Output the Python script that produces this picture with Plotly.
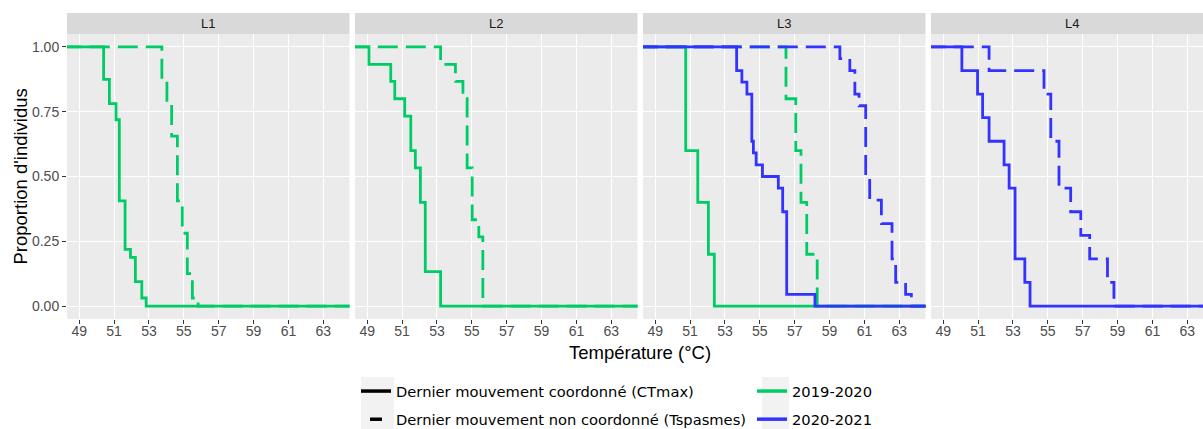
import plotly.graph_objects as go

# ---------------- data ----------------
panels = ["L1", "L2", "L3", "L4"]
x_ticks = [49, 51, 53, 55, 57, 59, 61, 63]
y_ticks = [0.0, 0.25, 0.50, 0.75, 1.0]
temp_start = 48.0
temp_end = 65.0

# L1 – 2019-2020
L1_2019_ctmax_temp = [50.40, 50.73, 51.11, 51.30, 51.63, 51.94, 52.22, 52.59, 52.84]
L1_2019_ctmax_prop = [0.875, 0.781, 0.719, 0.406, 0.219, 0.188, 0.094, 0.031, 0.0]
L1_2019_tsp_temp = [53.74, 54.03, 54.30, 54.63, 54.91, 55.20, 55.49, 55.82]
L1_2019_tsp_prop = [0.875, 0.781, 0.656, 0.406, 0.281, 0.125, 0.031, 0.0]

# L2 – 2019-2020
L2_2019_ctmax_temp = [49.10, 50.35, 50.58, 51.15, 51.50, 51.76, 52.05, 52.33, 53.21]
L2_2019_ctmax_prop = [0.933, 0.867, 0.800, 0.733, 0.600, 0.533, 0.400, 0.133, 0.0]
L2_2019_tsp_temp = [53.21, 54.06, 54.49, 54.73, 55.02, 55.40, 55.63]
L2_2019_tsp_prop = [0.933, 0.867, 0.800, 0.533, 0.333, 0.267, 0.0]

# L3 – 2019-2020
L3_2019_ctmax_temp = [50.75, 51.44, 52.05, 52.39]
L3_2019_ctmax_prop = [0.6, 0.4, 0.2, 0.0]
L3_2019_tsp_temp = [56.50, 57.06, 57.36, 57.69, 58.29]
L3_2019_tsp_prop = [0.8, 0.6, 0.4, 0.2, 0.0]

# L3 – 2020-2021
L3_2020_ctmax_temp = [53.67, 53.97, 54.26, 54.54, 54.63, 54.79, 55.15, 56.06, 56.31, 56.54, 58.16]
L3_2020_ctmax_prop = [0.909, 0.864, 0.818, 0.636, 0.591, 0.545, 0.500, 0.455, 0.364, 0.045, 0.0]
L3_2020_tsp_temp = [59.59, 60.16, 60.45, 60.69, 61.07, 61.30, 61.97, 62.58, 62.79, 63.36, 63.69]
L3_2020_tsp_prop = [0.955, 0.909, 0.818, 0.773, 0.500, 0.409, 0.318, 0.182, 0.091, 0.045, 0.0]

# L4 – 2020-2021
L4_2020_ctmax_temp = [50.07, 50.97, 51.26, 51.63, 52.49, 52.78, 53.12, 53.68, 53.98]
L4_2020_ctmax_prop = [0.909, 0.818, 0.727, 0.636, 0.545, 0.455, 0.182, 0.091, 0.0]
L4_2020_tsp_temp = [51.63, 54.78, 55.17, 55.64, 56.31, 56.89, 57.40, 58.42, 58.79]
L4_2020_tsp_prop = [0.909, 0.818, 0.636, 0.455, 0.364, 0.273, 0.182, 0.091, 0.0]

series = [
    # (panel, year, type, temps, props)
    ("L1", "2019-2020", "ctmax", L1_2019_ctmax_temp, L1_2019_ctmax_prop),
    ("L1", "2019-2020", "tsp", L1_2019_tsp_temp, L1_2019_tsp_prop),
    ("L2", "2019-2020", "ctmax", L2_2019_ctmax_temp, L2_2019_ctmax_prop),
    ("L2", "2019-2020", "tsp", L2_2019_tsp_temp, L2_2019_tsp_prop),
    ("L3", "2019-2020", "ctmax", L3_2019_ctmax_temp, L3_2019_ctmax_prop),
    ("L3", "2019-2020", "tsp", L3_2019_tsp_temp, L3_2019_tsp_prop),
    ("L3", "2020-2021", "ctmax", L3_2020_ctmax_temp, L3_2020_ctmax_prop),
    ("L3", "2020-2021", "tsp", L3_2020_tsp_temp, L3_2020_tsp_prop),
    ("L4", "2020-2021", "ctmax", L4_2020_ctmax_temp, L4_2020_ctmax_prop),
    ("L4", "2020-2021", "tsp", L4_2020_tsp_temp, L4_2020_tsp_prop),
]

type_labels = {
    "ctmax": "Dernier mouvement coordonné (CTmax)",
    "tsp": "Dernier mouvement non coordonné (Tspasmes)",
}
year_labels = ["2019-2020", "2020-2021"]

# ---------------- styles ----------------
W, H = 1203, 429
year_colors = {"2019-2020": "#00CC66", "2020-2021": "#3333FF"}
type_dash = {"ctmax": "solid", "tsp": "20px,8px"}
LINE_W = 2.8
AX_FONT = "Liberation Sans, Arial, sans-serif"
LEG_FONT = "DejaVu Sans, Verdana, sans-serif"

panel_px = [(67, 349.5), (355, 637.5), (643, 925.5), (931, 1203)]
x_lo, x_hi = 48.3, 64.5
px_per_unit = (panel_px[0][1] - panel_px[0][0]) / (x_hi - x_lo)
plot_top, plot_bot = 34, 319
strip_top = 13


def fx(p):
    return p / W


def fy(p):
    return 1 - p / H


fig = go.Figure()

for panel, year, typ, temps, props in series:
    i = panels.index(panel) + 1
    xs = [temp_start] + list(temps) + [temp_end]
    ys = [1.0] + list(props) + [props[-1]]
    fig.add_trace(go.Scatter(
        x=xs, y=ys, mode="lines", line_shape="hv",
        line=dict(color=year_colors[year], width=LINE_W, dash=type_dash[typ]),
        xaxis=f"x{i}", yaxis=f"y{i}", showlegend=False, hoverinfo="skip",
    ))

# legend entries
for typ in ["ctmax", "tsp"]:
    fig.add_trace(go.Scatter(
        x=[None], y=[None], mode="lines", name=type_labels[typ],
        line=dict(color="black", width=3.5,
                  dash="solid" if typ == "ctmax" else "0px,9px,12px,40px"),
        legend="legend", legendgroup=typ, showlegend=True,
    ))
for yr in year_labels:
    fig.add_trace(go.Scatter(
        x=[None], y=[None], mode="lines", name=yr,
        line=dict(color=year_colors[yr], width=3.5),
        legend="legend2", legendgroup=yr, showlegend=True,
    ))

layout = dict(
    width=W, height=H,
    margin=dict(l=0, r=0, t=0, b=0, autoexpand=False),
    paper_bgcolor="white", plot_bgcolor="#EBEBEB",
    font=dict(family=AX_FONT, color="#4D4D4D"),
    showlegend=True,
)

shapes = []
annotations = []
for i, (a, b) in enumerate(panel_px, start=1):
    rng_hi = x_lo + (b - a) / px_per_unit
    layout[f"xaxis{i}"] = dict(
        domain=[fx(a), fx(b)], range=[x_lo, rng_hi], anchor=f"y{i}",
        tickvals=x_ticks, ticks="outside", ticklen=4, tickcolor="#333333",
        ticklabelstandoff=-5,
        tickfont=dict(size=14, color="#4D4D4D", family=AX_FONT),
        showgrid=True, gridcolor="white", gridwidth=1.1,
        zeroline=False, showline=False, automargin=False, fixedrange=True,
    )
    layout[f"yaxis{i}"] = dict(
        domain=[fy(plot_bot), fy(plot_top)], range=[-0.05, 1.05],
        anchor=f"x{i}", tickvals=y_ticks, tickformat=".2f",
        ticks="outside" if i == 1 else "", ticklen=4, tickcolor="#333333",
        showticklabels=(i == 1),
        tickfont=dict(size=14, color="#4D4D4D", family=AX_FONT),
        showgrid=True, gridcolor="white", gridwidth=1.1,
        zeroline=False, showline=False, automargin=False, fixedrange=True,
    )
    shapes.append(dict(
        type="rect", xref="paper", yref="paper",
        x0=fx(a), x1=fx(b), y0=fy(plot_top), y1=fy(strip_top),
        fillcolor="#D9D9D9", line=dict(width=0), layer="below",
    ))
    annotations.append(dict(
        text=panels[i - 1], xref="paper", yref="paper",
        x=fx(a + 141), y=fy((strip_top + plot_top) / 2),
        xanchor="center", yanchor="middle", showarrow=False,
        font=dict(size=13, color="#1A1A1A", family=AX_FONT),
    ))

# axis titles
annotations.append(dict(
    text="Température (°C)", xref="paper", yref="paper",
    x=fx(640), y=fy(352), xanchor="center", yanchor="middle", showarrow=False,
    font=dict(size=18.5, color="black", family=AX_FONT),
))
annotations.append(dict(
    text="Proportion d'individus", xref="paper", yref="paper",
    x=fx(20), y=fy((plot_top + plot_bot) / 2), xanchor="center", yanchor="middle",
    textangle=-90, showarrow=False,
    font=dict(size=18.5, color="black", family=AX_FONT),
))

# legend key backgrounds
for (a, b) in [(361, 394), (762, 789)]:
    shapes.append(dict(
        type="rect", xref="paper", yref="paper",
        x0=fx(a), x1=fx(b), y0=fy(432), y1=fy(377),
        fillcolor="#F2F2F2", line=dict(width=0), layer="below",
    ))

layout["shapes"] = shapes
layout["annotations"] = annotations
layout["legend"] = dict(
    x=fx(356), y=fy(375), xanchor="left", yanchor="top",
    bgcolor="rgba(0,0,0,0)", borderwidth=0, tracegroupgap=6,
    font=dict(size=14.7, color="black", family=LEG_FONT),
    orientation="v", itemclick=False, itemdoubleclick=False,
)
layout["legend2"] = dict(
    x=fx(752), y=fy(375), xanchor="left", yanchor="top",
    bgcolor="rgba(0,0,0,0)", borderwidth=0, tracegroupgap=6,
    font=dict(size=14.7, color="black", family=LEG_FONT),
    orientation="v", itemclick=False, itemdoubleclick=False,
)

fig.update_layout(**layout)
fig.write_html("out.html", config={"displayModeBar": False},
               post_script="document.body.style.margin='0px';")
